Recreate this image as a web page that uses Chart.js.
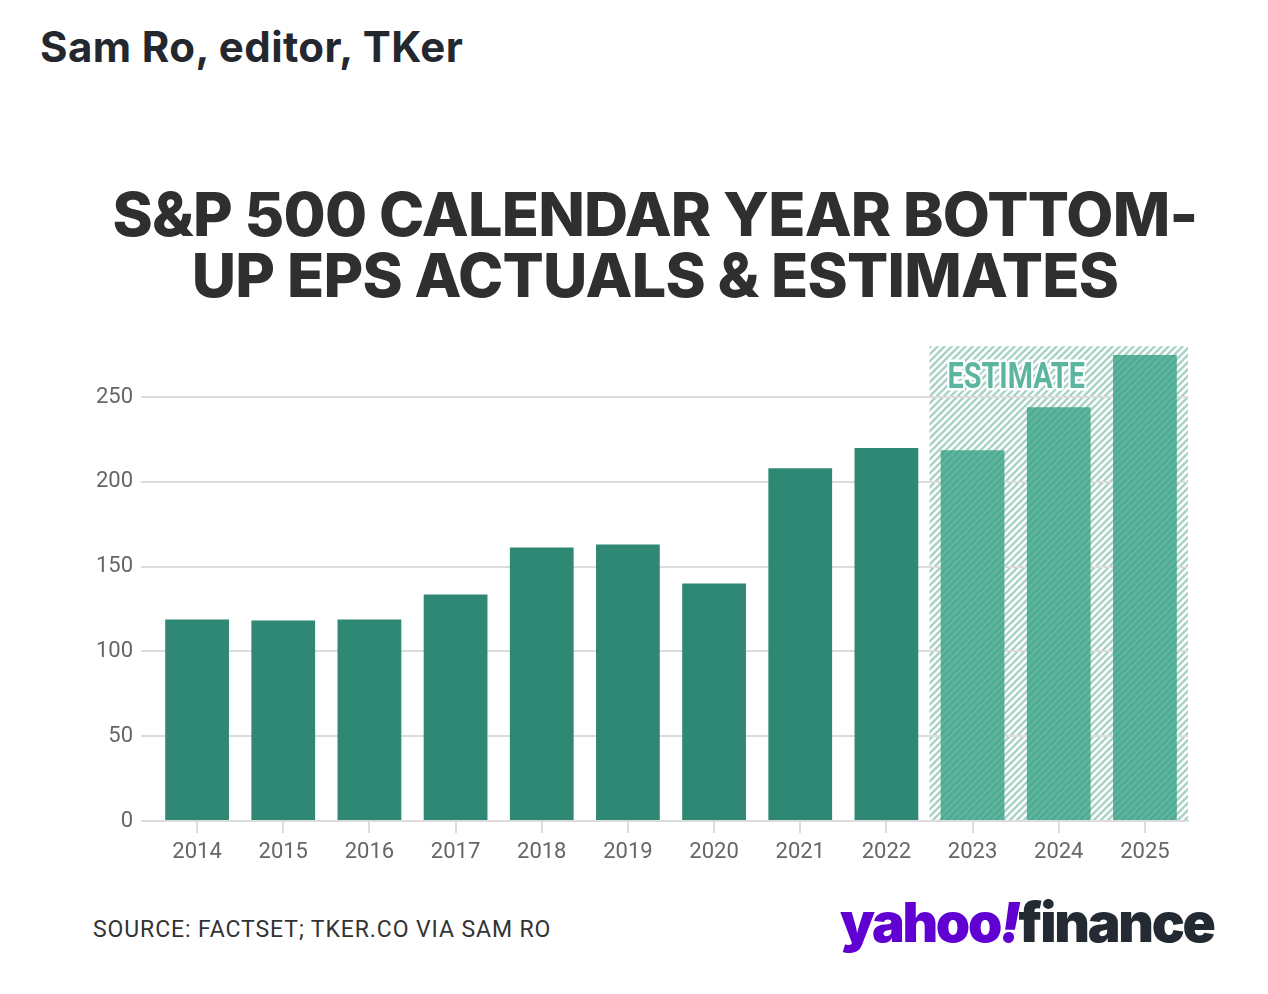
<!DOCTYPE html>
<html>
<head>
<meta charset="utf-8">
<script src="https://cdn.jsdelivr.net/npm/chart.js@4"></script>
<style>
  html, body { margin: 0; padding: 0; background: #fff; }
  body { width: 1268px; height: 994px; position: relative; overflow: hidden; font-family: Roboto, "Noto Sans", sans-serif; }
  #author { position: absolute; left: 40px; top: 21px; font: 700 42px Inter, Roboto, sans-serif; color: #23272e; letter-spacing: 0.4px; }
  #title { position: absolute; left: 0; width: 1310px; top: 184px; text-align: center; font: 800 61px Inter, Roboto, sans-serif; line-height: 61px; color: #2f2f2f; letter-spacing: -0.75px; }
  #source { position: absolute; left: 93px; top: 916px; font: 400 23px Roboto, sans-serif; color: #333; letter-spacing: 0.9px; }
  #logo { position: absolute; left: 840px; top: 889px; font: 900 55px Inter, Roboto, sans-serif; letter-spacing: -2.3px; white-space: nowrap; }
  #logo .y { color: #6001d2; }
  #logo .f { color: #232a31; }
  #wrap { position: absolute; left: 0; top: 325px; width: 1268px; height: 546px; }
</style>
</head>
<body>
<div id="author">Sam Ro, editor, TKer</div>
<div id="title">S&amp;P 500 CALENDAR YEAR BOTTOM-<br>UP EPS ACTUALS &amp; ESTIMATES</div>
<div id="wrap"><canvas id="myChart"></canvas></div>
<div id="source">SOURCE: FACTSET; TKER.CO VIA SAM RO</div>
<div id="logo"><span class="y">yahoo<i>!</i></span><span class="f">finance</span></div>

<script>
// values
let years = ['2014','2015','2016','2017','2018','2019','2020','2021','2022','2023','2024','2025'];
let eps = [118.8, 118.2, 118.8, 133.6, 161.3, 163.1, 140.1, 208.0, 219.9, 218.7, 244.0, 274.8];
let firstEstimate = '2023';
let yTicks = [0, 50, 100, 150, 200, 250];

let actualColour = '#2e8873';
let estimateColour = '#5cb59e';

// diagonal stripe pattern
function stripes(bg, fg, size, w) {
  let c = document.createElement('canvas');
  c.width = size; c.height = size;
  let g = c.getContext('2d');
  if (bg) { g.fillStyle = bg; g.fillRect(0, 0, size, size); }
  g.strokeStyle = fg;
  g.lineWidth = w;
  g.beginPath();
  g.moveTo(-2, 2); g.lineTo(2, -2);
  g.moveTo(0, size); g.lineTo(size, 0);
  g.moveTo(size - 2, size + 2); g.lineTo(size + 2, size - 2);
  g.stroke();
  return g.createPattern(c, 'repeat');
}

let ctx = document.getElementById('myChart').getContext('2d');
let hatchBg = stripes('#ffffff', '#a8d3c4', 7, 2.4);
let hatchBar = stripes(estimateColour, '#50a891', 7, 2);

let barColours = years.map((y, i) => i >= years.indexOf(firstEstimate) ? hatchBar : actualColour);

// hatched "estimate" zone behind grid and bars
let estimateZone = {
  id: 'estimateZone',
  beforeDraw(chart) {
    let x = chart.scales.x, a = chart.chartArea, c = chart.ctx;
    let i = years.indexOf(firstEstimate);
    let left = (x.getPixelForValue(i - 1) + x.getPixelForValue(i)) / 2;
    c.save();
    c.fillStyle = hatchBg;
    c.fillRect(left, a.top, a.right - left, a.bottom - a.top);
    c.restore();
  },
  afterDatasetsDraw(chart) {
    let x = chart.scales.x, a = chart.chartArea, c = chart.ctx;
    let i = years.indexOf(firstEstimate);
    let left = (x.getPixelForValue(i - 1) + x.getPixelForValue(i)) / 2;
    c.save();
    c.translate(left + 18, a.top + 42);
    c.scale(0.8, 1);
    c.font = 'bold 36px Roboto';
    c.textBaseline = 'alphabetic';
    c.lineJoin = 'round';
    c.strokeStyle = '#ffffff';
    c.lineWidth = 5;
    c.strokeText('ESTIMATE', 0, 0);
    c.fillStyle = estimateColour;
    c.fillText('ESTIMATE', 0, 0);
    c.restore();
  }
};

let mychart = new Chart(ctx, {
  type: 'bar',
  data: {
    labels: years,
    datasets: [{
      label: 'EPS',
      data: eps,
      backgroundColor: barColours,
      borderWidth: 0,
      barPercentage: 0.74,
      categoryPercentage: 1
    }]
  },
  options: {
    responsive: true,
    maintainAspectRatio: false,
    animation: false,
    layout: { padding: { top: 20, right: 80, left: 0, bottom: 0 } },
    plugins: { legend: { display: false }, tooltip: { enabled: false } },
    scales: {
      x: {
        grid: { display: true, drawOnChartArea: false, drawTicks: true, tickLength: 12, offset: false, color: '#dcdcdc', lineWidth: 2 },
        border: { display: true, color: '#dcdcdc', width: 2 },
        ticks: { color: '#666', font: { family: 'Roboto', size: 22 }, padding: 6, maxRotation: 0 },
        afterFit(s) { s.height = 50; }
      },
      y: {
        min: 0,
        max: 280,
        grid: { color: '#dcdcdc', lineWidth: 2, tickLength: 13 },
        border: { display: false },
        ticks: { color: '#666', font: { family: 'Roboto', size: 22 }, padding: 8 },
        afterBuildTicks(s) { s.ticks = yTicks.map(v => ({ value: v })); },
        afterFit(s) { s.width = 154; }
      }
    }
  },
  plugins: [estimateZone]
});
</script>
</body>
</html>
